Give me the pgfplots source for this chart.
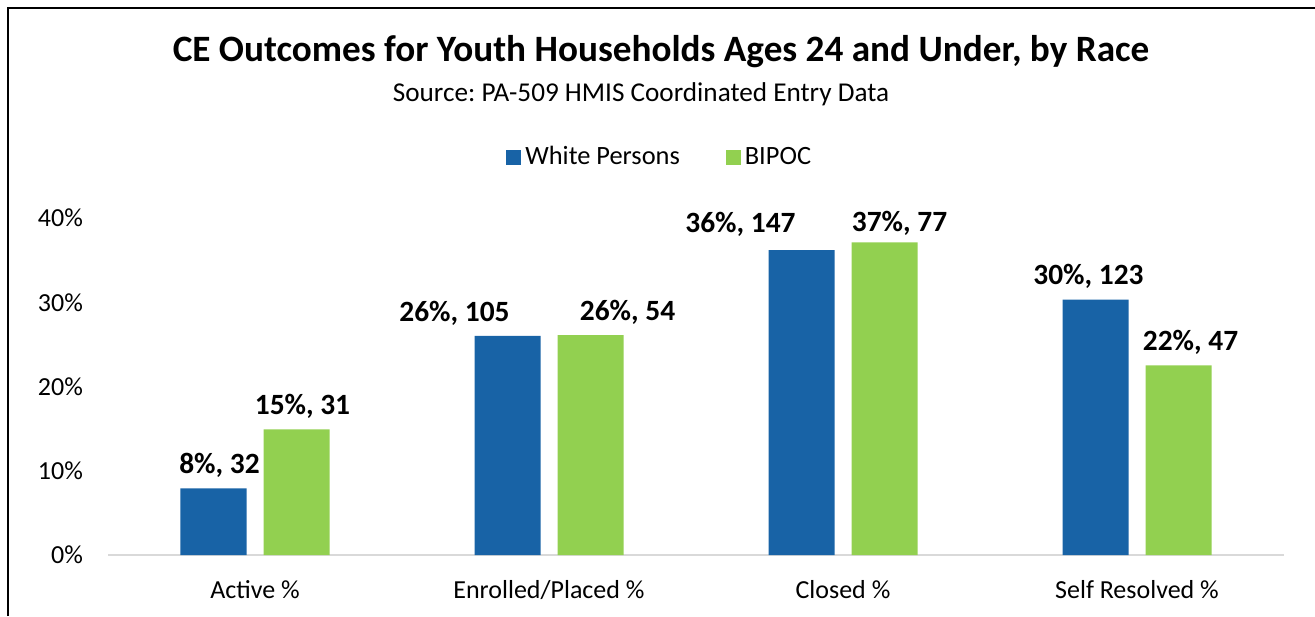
\documentclass[border=0pt]{standalone}
\usepackage{fontspec}
\setmainfont{Carlito}
\usepackage{pgfplots}
\usepackage{pgfplotstable}
\pgfplotsset{compat=1.18}
\frenchspacing
\definecolor{cblue}{RGB}{24,99,166}
\definecolor{cgreen}{RGB}{146,208,80}
\definecolor{axgray}{RGB}{217,217,217}
\pgfplotstableread{
x y pct n dx dy
0 7.9 8 32 3 11.5
1 26.0 26 105 -26.5 11.5
2 36.2 36 147 -30.5 13
3 30.3 30 123 -3.5 11.5
}\tblW
\pgfplotstableread{
x y pct n dx dy
0 14.9 15 31 3 11.5
1 26.1 26 54 18.5 11.5
2 37.1 37 77 7.5 9.5
3 22.5 22 47 6 11.5
}\tblB
\newcommand{\pn}[1]{\pgfmathprintnumber[fixed,precision=0,assume math mode=true]{#1}}
\begin{document}
\begin{tikzpicture}
\useasboundingbox (0,0) rectangle (657.5pt,308pt);
\draw[line width=1pt] (4pt,0) -- (4pt,304pt) -- (657.5pt,304pt);
\node[font=\fontsize{18.6}{22}\selectfont\bfseries] at (330.5pt,282pt) {CE Outcomes for Youth Households Ages 24 and Under, by Race};
\node[font=\fontsize{13.6}{16}\selectfont] at (320.5pt,261pt) {Source: PA-509 HMIS Coordinated Entry Data};
\begin{axis}[
 at={(54pt,30.5pt)}, anchor=south west,
 scale only axis, width=588pt, height=168.5pt,
 xmin=-0.5, xmax=3.5, ymin=0, ymax=40,
 ybar=8.5pt, bar width=33pt,
 xtick={0,1,2,3}, xticklabels={Active \%, Enrolled/Placed \%, Closed \%, Self Resolved \%},
 ytick={0,10,20,30,40}, yticklabels={0\%,10\%,20\%,30\%,40\%},
 major tick length=0pt,
 axis x line*=bottom, axis y line*=left,
 x axis line style={-, draw=axgray, line width=0.75pt},
 y axis line style={draw=none},
 tick label style={font=\fontsize{13}{15}\selectfont},
 xticklabel style={anchor=base, yshift=-21.5pt},
 yticklabel style={xshift=-9pt},
 clip=false,
 point meta=y,
 nodes near coords={\pn{\pct}\%, \pn{\cnt}},
 visualization depends on={\thisrow{pct}\as\pct},
 visualization depends on={\thisrow{n}\as\cnt},
 visualization depends on={\thisrow{dx}\as\dx},
 visualization depends on={\thisrow{dy}\as\dy},
 every node near coord/.append style={font=\fontsize{14.7}{17}\selectfont\bfseries, anchor=center, xshift=\dx, yshift=\dy, text=black},
 legend style={at={(0.47,1.181)}, anchor=center, draw=none, legend columns=-1, font=\fontsize{13.2}{15}\selectfont, /tikz/every even column/.append style={column sep=21pt}},
 legend image code/.code={\fill[#1] (0pt,-3.75pt) rectangle (7.5pt,3.75pt);},
]
\addplot[fill=cblue, draw=none] table[x=x,y=y] {\tblW};
\addplot[fill=cgreen, draw=none] table[x=x,y=y] {\tblB};
\legend{White Persons, BIPOC}
\end{axis}
\end{tikzpicture}
\end{document}
